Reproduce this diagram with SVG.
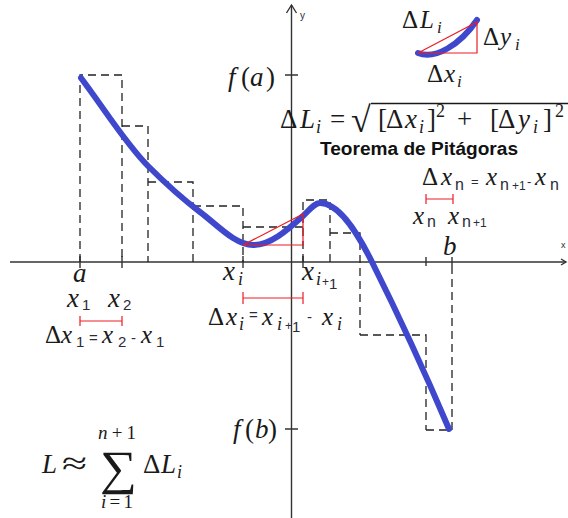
<svg xmlns="http://www.w3.org/2000/svg" width="568" height="518" viewBox="0 0 568 518">
<style>
.m{font-family:'Liberation Serif','Times New Roman',serif;fill:#1a1a1a}
.i{font-style:italic}
.s{font-family:'Liberation Sans',Arial,sans-serif;fill:#2b2b3a;font-style:normal}
.ax{stroke:#333;stroke-width:1.4;fill:none}
.dash{fill:none;stroke:#222;stroke-width:1.3;stroke-dasharray:8 5}
.red{stroke:#ed1c24;stroke-width:1.2;fill:none}
.curve{stroke:#3f48cc;stroke-width:6;fill:none;stroke-linecap:round;stroke-linejoin:round}
</style>
<rect width="568" height="518" fill="#fff"/>
<g id="axes">
  <line class="ax" x1="10" y1="262" x2="566" y2="262"/>
  <line class="ax" x1="291.5" y1="5" x2="291.5" y2="518"/>
  <path class="ax" d="M286.5,13 L291.5,5 L296.5,13"/>
  <path class="ax" d="M561,259 L566,262 L561,265" stroke-width="1"/>
  <text class="s" x="300" y="19" font-size="10" fill="#4a6fb0">y</text>
  <text class="s" x="561" y="248" font-size="9" fill="#c08a3a">x</text>
  <path class="ax" d="M80,256V268M122,256V268M243,256V268M303,256V268M426,257V266M452,257V266M285,75H298M285,429H298"/>
</g>
<g id="rectangles">
  <path class="dash" d="M80,262V75H122V262M122,126H148V262M148,182H193V262M193,206H243V262M243,227H306M303,262V200H330V262M330,233H360V335M360,335H426V430M426,430H452V262"/>
</g>
<g id="curve">
  <path class="curve" d="M81,78 C102.7,106.5 125.3,143.3 148,166 C165.3,183.3 182.7,199 200,212 C217.7,225.3 235.3,245 253,245 C270,245.5 286.3,231 303,216 C308.7,210.9 314.3,203 320,203 C337.3,203 354.7,227.4 372,262 C398,314 424,370.2 449,429"/>
  <path class="red" d="M243,245 L303,214 L303,245 Z"/>
</g>
<g id="inset">
  <path class="curve" stroke-width="5" d="M418,53 C435,60 460,45 477,20"/>
  <path class="red" d="M418,53 L477,22 L477,53 Z"/>
  <text class="m" y="28" font-size="25"><tspan x="402">Δ</tspan><tspan class="i" x="420">L</tspan><tspan class="i" x="437" y="33" font-size="17">i</tspan></text>
  <text class="m" y="45" font-size="25"><tspan x="483">Δ</tspan><tspan class="i" x="500">y</tspan><tspan class="i" x="515" y="50" font-size="17">i</tspan></text>
  <text class="m" y="82" font-size="25"><tspan x="427">Δ</tspan><tspan class="i" x="444">x</tspan><tspan class="i" x="457" y="87" font-size="17">i</tspan></text>
</g>
<g id="labels">
  <text class="m" y="86" font-size="27"><tspan class="i" x="228">f</tspan><tspan x="241">(</tspan><tspan class="i" x="250">a</tspan><tspan x="266">)</tspan></text>
  <text class="m" y="438" font-size="27"><tspan class="i" x="233">f</tspan><tspan x="245">(</tspan><tspan class="i" x="255">b</tspan><tspan x="268">)</tspan></text>
  <text class="m i" x="73" y="282" font-size="27">a</text>
  <text class="m i" x="443" y="255" font-size="27">b</text>
  <text class="m" y="307" font-size="27"><tspan class="i" x="67">x</tspan><tspan class="s" x="82" y="310" font-size="15">1</tspan><tspan class="i" x="108" y="307">x</tspan><tspan class="s" x="123" y="310" font-size="15">2</tspan></text>
  <path class="red" d="M80,321H122M80,316V326M122,316V326"/>
  <text class="m" y="343" font-size="25"><tspan x="45">Δ</tspan><tspan class="i" x="61">x</tspan><tspan class="s" x="76" y="347" font-size="15">1</tspan><tspan class="s" x="89" y="343" font-size="15">=</tspan><tspan class="i" x="102" y="343">x</tspan><tspan class="s" x="118" y="347" font-size="15">2</tspan><tspan class="s" x="131" y="343" font-size="15">-</tspan><tspan class="i" x="141" y="343">x</tspan><tspan class="s" x="156" y="347" font-size="15">1</tspan></text>
  <text class="m" y="280" font-size="27"><tspan class="i" x="223">x</tspan><tspan class="i" x="238" y="285" font-size="18">i</tspan><tspan class="i" x="302" y="280">x</tspan><tspan class="i" x="316" y="285" font-size="18">i</tspan><tspan class="s" x="322" y="286" font-size="12">+</tspan><tspan class="s" x="329" y="289" font-size="15">1</tspan></text>
  <path class="red" d="M243,298H303M243,292V304M303,292V304"/>
  <text class="m" y="325" font-size="25"><tspan x="208">Δ</tspan><tspan class="i" x="226">x</tspan><tspan class="i" x="239" y="330" font-size="18">i</tspan><tspan class="s" x="249" y="320" font-size="15">=</tspan><tspan class="i" x="262" y="325">x</tspan><tspan class="i" x="277" y="330" font-size="18">i</tspan><tspan class="s" x="285" y="330" font-size="12">+</tspan><tspan class="s" x="292" y="332" font-size="15">1</tspan><tspan class="s" x="307" y="322" font-size="15">-</tspan><tspan class="i" x="322" y="325">x</tspan><tspan class="i" x="337" y="330" font-size="18">i</tspan></text>
</g>
<g id="formula">
  <text class="m" y="128" font-size="27"><tspan x="280">Δ</tspan><tspan class="i" x="300">L</tspan><tspan class="i" x="316" y="133" font-size="18">i</tspan><tspan x="330" y="128">=</tspan><tspan x="378">[</tspan><tspan x="386">Δ</tspan><tspan class="i" x="405">x</tspan><tspan class="i" x="419" y="133" font-size="18">i</tspan><tspan x="427" y="128">]</tspan><tspan x="436" y="117" font-size="18">2</tspan><tspan x="457" y="128">+</tspan><tspan x="490">[</tspan><tspan x="498">Δ</tspan><tspan class="i" x="518">y</tspan><tspan class="i" x="533" y="133" font-size="18">i</tspan><tspan x="543" y="128">]</tspan><tspan x="555" y="117" font-size="18">2</tspan></text>
  <text class="m" x="351" y="132" font-size="36">√</text>
  <line x1="371" y1="103.5" x2="568" y2="103.5" stroke="#1a1a1a" stroke-width="1.3"/>
  <text x="320" y="155" font-family="'Liberation Sans',Arial,sans-serif" font-weight="bold" font-size="17.5" fill="#111" textLength="198" lengthAdjust="spacingAndGlyphs">Teorema de Pitágoras</text>
  <text class="m" y="185" font-size="25"><tspan x="422">Δ</tspan><tspan class="i" x="441">x</tspan><tspan class="s" x="455" y="190" font-size="16">n</tspan><tspan class="s" x="471" y="186" font-size="13">=</tspan><tspan class="i" x="486" y="185">x</tspan><tspan class="s" x="500" y="190" font-size="16">n</tspan><tspan class="s" x="512" y="190" font-size="12">+1</tspan><tspan class="s" x="527" y="186" font-size="13">-</tspan><tspan class="i" x="535" y="185">x</tspan><tspan class="s" x="550" y="190" font-size="16">n</tspan></text>
  <path class="red" d="M426,199H453M426,194V204M453,194V204"/>
  <text class="m" y="224" font-size="25"><tspan class="i" x="413">x</tspan><tspan class="s" x="427" y="227" font-size="16">n</tspan><tspan class="i" x="448" y="224">x</tspan><tspan class="s" x="462" y="227" font-size="16">n</tspan><tspan class="s" x="473" y="227" font-size="12">+1</tspan></text>
  <text class="m i" x="42" y="473" font-size="27">L</text>
  <text class="m" x="62" y="474" font-size="32" textLength="25" lengthAdjust="spacingAndGlyphs">≈</text>
  <text class="m" x="100" y="484" font-size="48" textLength="37" lengthAdjust="spacingAndGlyphs">∑</text>
  <text class="m" y="473" font-size="27"><tspan x="143">Δ</tspan><tspan class="i" x="161">L</tspan><tspan class="i" x="177" y="478" font-size="18">i</tspan></text>
  <text class="m" x="98" y="439" font-size="19" textLength="38" lengthAdjust="spacing"><tspan class="i">n</tspan>+1</text>
  <text class="m" x="101" y="508" font-size="19" textLength="32" lengthAdjust="spacing"><tspan class="i">i</tspan>=1</text>
</g>
</svg>
